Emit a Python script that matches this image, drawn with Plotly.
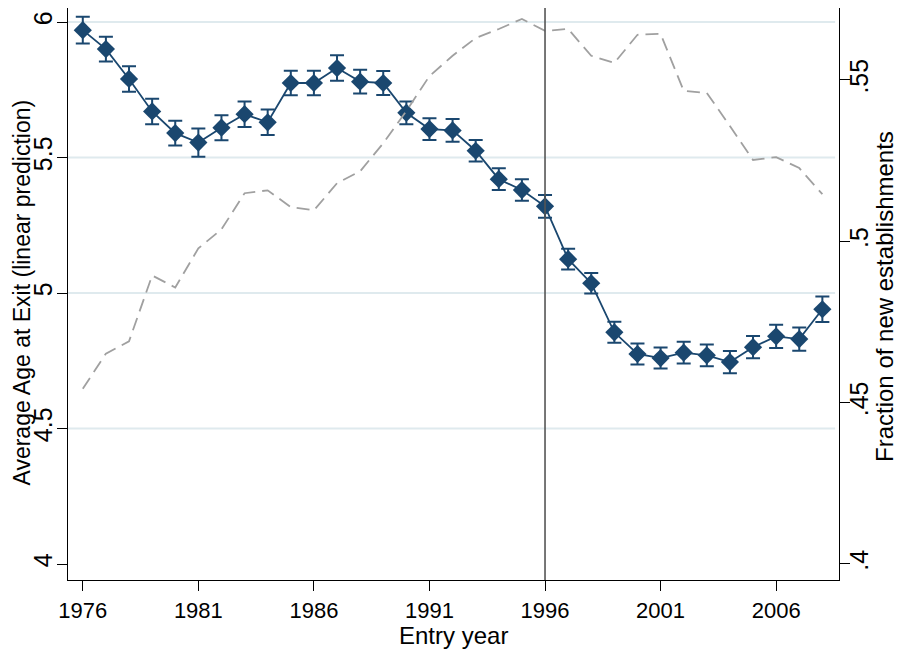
import plotly.graph_objects as go

# entry years and the two series
years = list(range(1976, 2009))
avg_age = [5.97, 5.90, 5.79, 5.67, 5.59, 5.555, 5.61, 5.66, 5.63, 5.775,
           5.775, 5.83, 5.78, 5.775, 5.665, 5.605, 5.60, 5.525, 5.42, 5.38,
           5.32, 5.125, 5.036, 4.855, 4.775, 4.76, 4.78, 4.77, 4.745, 4.80,
           4.84, 4.83, 4.94]
ci_half = [0.049, 0.046, 0.047, 0.047, 0.046, 0.052, 0.046, 0.047, 0.047, 0.045,
           0.045, 0.047, 0.044, 0.044, 0.042, 0.040, 0.042, 0.040, 0.040, 0.040,
           0.042, 0.038, 0.038, 0.039, 0.039, 0.039, 0.040, 0.040, 0.041, 0.041,
           0.043, 0.043, 0.047]
frac_new = [0.4543, 0.4652, 0.469, 0.4894, 0.4857, 0.4978, 0.5037, 0.5149, 0.5158, 0.5106,
            0.5096, 0.518, 0.5217, 0.5304, 0.5404, 0.5512, 0.5575, 0.5630, 0.5658, 0.5689,
            0.5652, 0.5658, 0.5575, 0.5553, 0.5640, 0.5643, 0.5466, 0.5460, 0.5357, 0.5252,
            0.5261, 0.5227, 0.5146]

x_ticks = [1976, 1981, 1986, 1991, 1996, 2001, 2006]
y_ticks = [4, 4.5, 5, 5.5, 6]
y_ticklabels = ["4", "4.5", "5", "5.5", "6"]
y2_ticks = [0.40, 0.45, 0.50, 0.55]
y2_ticklabels = [".4", ".45", ".5", ".55"]
ref_year = 1996

navy = "#1a476f"
font = "Liberation Sans, Arial, sans-serif"

fig = go.Figure()

fig.add_trace(go.Scatter(
    x=years, y=frac_new, yaxis="y2", mode="lines",
    line=dict(color="#a0a0a0", width=1.8, dash="13px,7px"),
    showlegend=False,
))

fig.add_trace(go.Scatter(
    x=years, y=avg_age, mode="lines+markers",
    line=dict(color=navy, width=1.8),
    marker=dict(symbol="diamond", size=14, color=navy),
    error_y=dict(type="data", array=ci_half, color=navy, thickness=2, width=7),
    showlegend=False,
))

# vertical reference line at 1996
fig.add_shape(type="line", x0=ref_year, x1=ref_year, y0=0, y1=1,
              xref="x", yref="paper", line=dict(color="#555555", width=1.6))

# light horizontal gridlines at the left-axis labels (not at the bottom one)
for g in y_ticks[1:]:
    fig.add_shape(type="line", x0=0, x1=0.995, y0=g, y1=g, xref="paper", yref="y",
                  line=dict(color="#dfeaee", width=2), layer="below")

axis_common = dict(ticks="outside", ticklen=10, tickwidth=1.4, tickcolor="black",
                   showline=True, linecolor="black", linewidth=1.4,
                   showgrid=False, zeroline=False, automargin=False)

# the page body adds an 8px offset, so the figure is 8px smaller
fig.update_layout(
    width=894, height=642,
    margin=dict(l=60, r=63, t=0, b=70),
    plot_bgcolor="white", paper_bgcolor="white",
    font=dict(family=font, color="black"),
    xaxis=dict(range=[1975.36, 2008.72], tickvals=x_ticks,
               tickfont=dict(size=22), **axis_common),
    yaxis=dict(range=[3.941, 6.0517], tickvals=y_ticks, ticktext=y_ticklabels,
               tickangle=-90, tickfont=dict(size=25), ticklabelstandoff=-5,
               **axis_common),
    yaxis2=dict(range=[0.39504, 0.5723], tickvals=y2_ticks, ticktext=y2_ticklabels,
                overlaying="y", side="right", tickangle=-90,
                tickfont=dict(size=25), ticklabelstandoff=-12, **axis_common),
    annotations=[
        dict(text="Entry year", x=0.5, y=0, xref="paper", yref="paper",
             xanchor="center", yanchor="middle", yshift=-55,
             showarrow=False, font=dict(size=24)),
        dict(text="Average Age at Exit (linear prediction)", x=0, y=0.5026,
             xref="paper", yref="paper", xanchor="center", yanchor="middle",
             xshift=-46, textangle=-90, showarrow=False, borderpad=0,
             font=dict(size=23)),
        dict(text="Fraction of new establishments", x=1, y=0.4948,
             xref="paper", yref="paper", xanchor="center", yanchor="middle",
             xshift=46, textangle=-90, showarrow=False, borderpad=0,
             font=dict(size=24)),
    ],
)

fig.write_html("out.html")
